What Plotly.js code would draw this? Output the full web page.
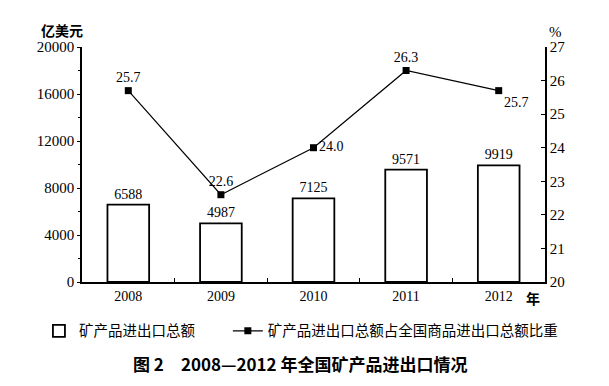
<!DOCTYPE html>
<html><head><meta charset="utf-8">
<script src="https://cdn.plot.ly/plotly-3.0.1.min.js"></script>
<style>html,body{margin:0;padding:0;background:#fff}#c{width:609px;height:386px}</style>
</head><body><div id="c"></div>
<script>
const years = ['2008','2009','2010','2011','2012'];
const tradeTotal = [6588, 4987, 7125, 9571, 9919];
const sharePct = [25.7, 22.6, 24.0, 26.3, 25.7];
const shareLabels = ['25.7','22.6','24.0','26.3','25.7'];
const barName = '矿产品进出口总额';
const lineName = '矿产品进出口总额占全国商品进出口总额比重';
const leftUnit = '<b>亿美元</b>';
const rightUnit = '%';
const xUnit = '<b>年</b>';
const chartTitle = '<b>图 2　2008—2012 年全国矿产品进出口情况</b>';

const serif = 'Liberation Serif, Times New Roman, serif';
const cjk = 'Noto Sans CJK SC, sans-serif';

const data = [
  {type:'bar', x:years, y:tradeTotal, name:barName, width:0.45,
   marker:{color:'#fff', line:{color:'#000', width:1.8}},
   text:tradeTotal.map(String), textposition:'outside', cliponaxis:false,
   textfont:{family:serif, size:14, color:'#000'}, legend:'legend'},
  {type:'scatter', mode:'lines+markers+text', x:years, y:sharePct, yaxis:'y2', name:lineName,
   line:{color:'#000', width:1.2}, marker:{symbol:'square', size:7, color:'#000'},
   text:shareLabels, textposition:['top center','top center','middle right','top center','bottom right'],
   textfont:{family:serif, size:14, color:'#000'}, cliponaxis:false, legend:'legend2'}
];

const layout = {
  width:609, height:386,
  margin:{l:82, r:64, t:47, b:104},
  paper_bgcolor:'#fff', plot_bgcolor:'#fff',
  showlegend:true,
  xaxis:{type:'category', range:[-0.5,4.5], showline:true, linecolor:'#000', linewidth:1.8,
    ticks:'inside', tickson:'boundaries', ticklen:4, tickcolor:'#000',
    tickfont:{family:serif, size:14, color:'#000'}, showgrid:false, zeroline:false, fixedrange:true},
  yaxis:{range:[0,20000], dtick:4000, tickformat:'d', showline:true, linecolor:'#000', linewidth:1.8,
    ticks:'outside', ticklen:3, tickcolor:'#000', showgrid:false, zeroline:false,
    tickfont:{family:serif, size:15, color:'#000'},
    minor:{dtick:2000, ticks:'outside', ticklen:2, tickcolor:'#000'}},
  yaxis2:{overlaying:'y', side:'right', range:[20,27], dtick:1, showline:true, linecolor:'#000', linewidth:1.8,
    ticks:'inside', ticklen:4, tickcolor:'#000', showgrid:false, zeroline:false,
    tickfont:{family:serif, size:15, color:'#000'}},
  legend:{orientation:'h', x:-0.093, y:-0.14, xanchor:'left', yanchor:'top', xref:'paper',
    font:{family:cjk, size:14.5, color:'#000'}, bgcolor:'rgba(0,0,0,0)'},
  legend2:{orientation:'h', x:0.315, y:-0.14, xanchor:'left', yanchor:'top', xref:'paper',
    font:{family:cjk, size:14.5, color:'#000'}, bgcolor:'rgba(0,0,0,0)'},
  annotations:[
    {text:leftUnit, xref:'paper', yref:'paper', x:-0.043, y:1.072, xanchor:'center', yanchor:'middle',
     showarrow:false, font:{family:cjk, size:14, color:'#000'}},
    {text:rightUnit, xref:'paper', yref:'paper', x:1.004, y:1.064, xanchor:'left', yanchor:'middle',
     showarrow:false, font:{family:serif, size:15, color:'#000'}},
    {text:xUnit, xref:'paper', yref:'paper', x:0.975, y:-0.015, xanchor:'center', yanchor:'top',
     showarrow:false, font:{family:cjk, size:14, color:'#000'}},
    {text:chartTitle, xref:'paper', yref:'paper', x:0.471, y:-0.285, xanchor:'center', yanchor:'top',
     showarrow:false, font:{family:cjk, size:17, color:'#000'}}
  ]
};
Plotly.newPlot('c', data, layout, {displayModeBar:false, staticPlot:true});
</script></body></html>
